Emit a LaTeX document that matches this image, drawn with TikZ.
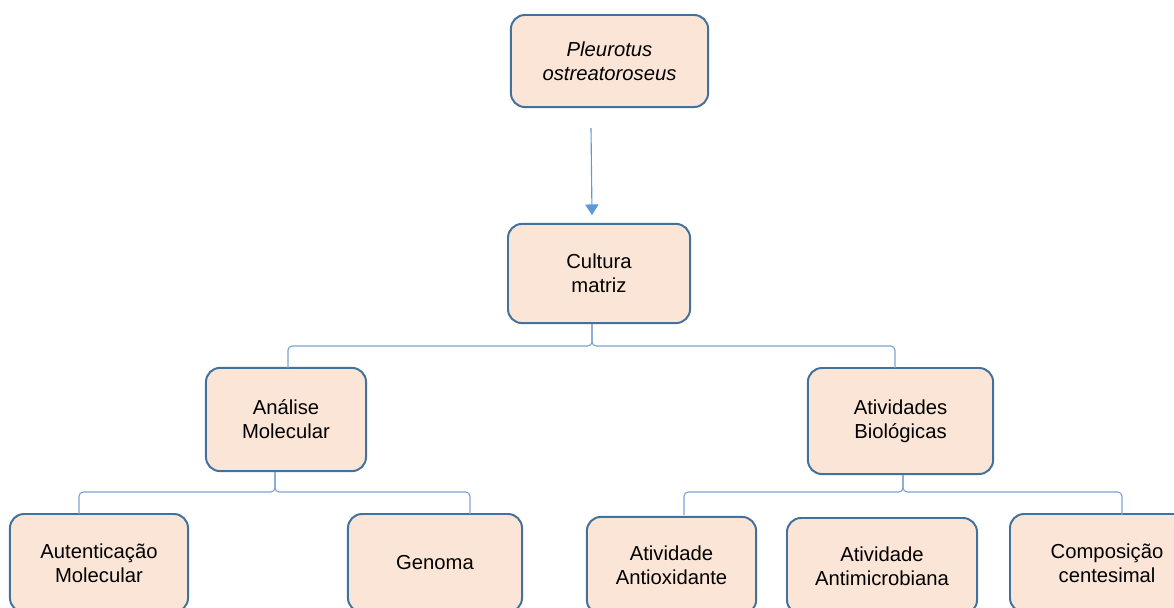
\documentclass[tikz,border=0pt]{standalone}
\usepackage{fontspec}
\setmainfont{Liberation Sans}
\usetikzlibrary{arrows.meta,positioning}

\definecolor{boxfill}{HTML}{FBE5D6}
\definecolor{boxline}{HTML}{41719C}
\definecolor{linkblue}{HTML}{7EA3CF}
\definecolor{arrowblue}{HTML}{5B9BD5}

\begin{document}
\begin{tikzpicture}[x=0.025cm,y=-0.025cm,
  font=\fontsize{14.4pt}{17pt}\selectfont,
  box/.style={draw=boxline,line width=1.4pt,fill=boxfill,rounded corners=10pt,
    align=center,inner sep=2pt},
  brace/.style={draw=linkblue,line width=0.8pt,rounded corners=3pt},
  arr/.style={draw=arrowblue,line width=0.8pt,-{Triangle[width=9.5pt,length=7.5pt]}}]

\useasboundingbox (0,0) rectangle (1174,607);

% ========================
% TOP LEVELS
% ========================

\node[box,minimum width=4.93cm,minimum height=2.30cm] (pleu) at (609.5,61)
  {\itshape Pleurotus\\ \itshape ostreatoroseus};

\node[box,minimum width=4.55cm,minimum height=2.48cm] (cult) at (599,273.5)
  {Cultura\\ matriz};

% arrow between them
\coordinate (a1) at (591,128);
\coordinate (a2) at (592,215);
\draw[arr] (a1) -- (a2);

% ========================
% SECOND LEVEL
% ========================

\node[box,minimum width=4.00cm,minimum height=2.58cm] (ana) at (286,419.5)
  {Análise\\ Molecular};
\node[box,minimum width=4.63cm,minimum height=2.65cm] (ativ) at (900.5,421)
  {Atividades\\ Biológicas};

\coordinate (br1) at (592,346);
\coordinate (d1l) at (288,368);
\coordinate (d1r) at (895,368);
\draw[brace] (br1 |- cult.south) -- (br1) -| (d1l);
\draw[brace] (br1 |- cult.south) -- (br1) -| (d1r);

% ========================
% BOTTOM LEVEL
% ========================

\node[box,minimum width=4.45cm,minimum height=2.45cm] (aut) at (99,563)
  {Autenticação\\ Molecular};
\node[box,minimum width=4.35cm,minimum height=2.45cm] (gen) at (435,563)
  {Genoma};

\node[box,minimum width=4.23cm,minimum height=2.43cm] (antiox) at (671.5,565.5)
  {Atividade\\ Antioxidante};
\node[box,minimum width=4.75cm,minimum height=2.40cm] (antimic) at (882,566)
  {Atividade\\ Antimicrobiana};
\node[box,minimum width=4.85cm,minimum height=2.45cm] (comp) at (1107,563)
  {Composição\\ centesimal};

% brace under Analise Molecular
\coordinate (br2) at (275,492);
\coordinate (d2l) at (79,514);
\coordinate (d2r) at (470,514);
\draw[brace] (br2 |- ana.south) -- (br2) -| (d2l);
\draw[brace] (br2 |- ana.south) -- (br2) -| (d2r);

% brace under Atividades Biologicas
\coordinate (br3) at (903,492);
\coordinate (d3l) at (684,515);
\coordinate (d3r) at (1122,515);
\draw[brace] (br3 |- ativ.south) -- (br3) -| (d3l);
\draw[brace] (br3 |- ativ.south) -- (br3) -| (d3r);

\end{tikzpicture}
\end{document}
